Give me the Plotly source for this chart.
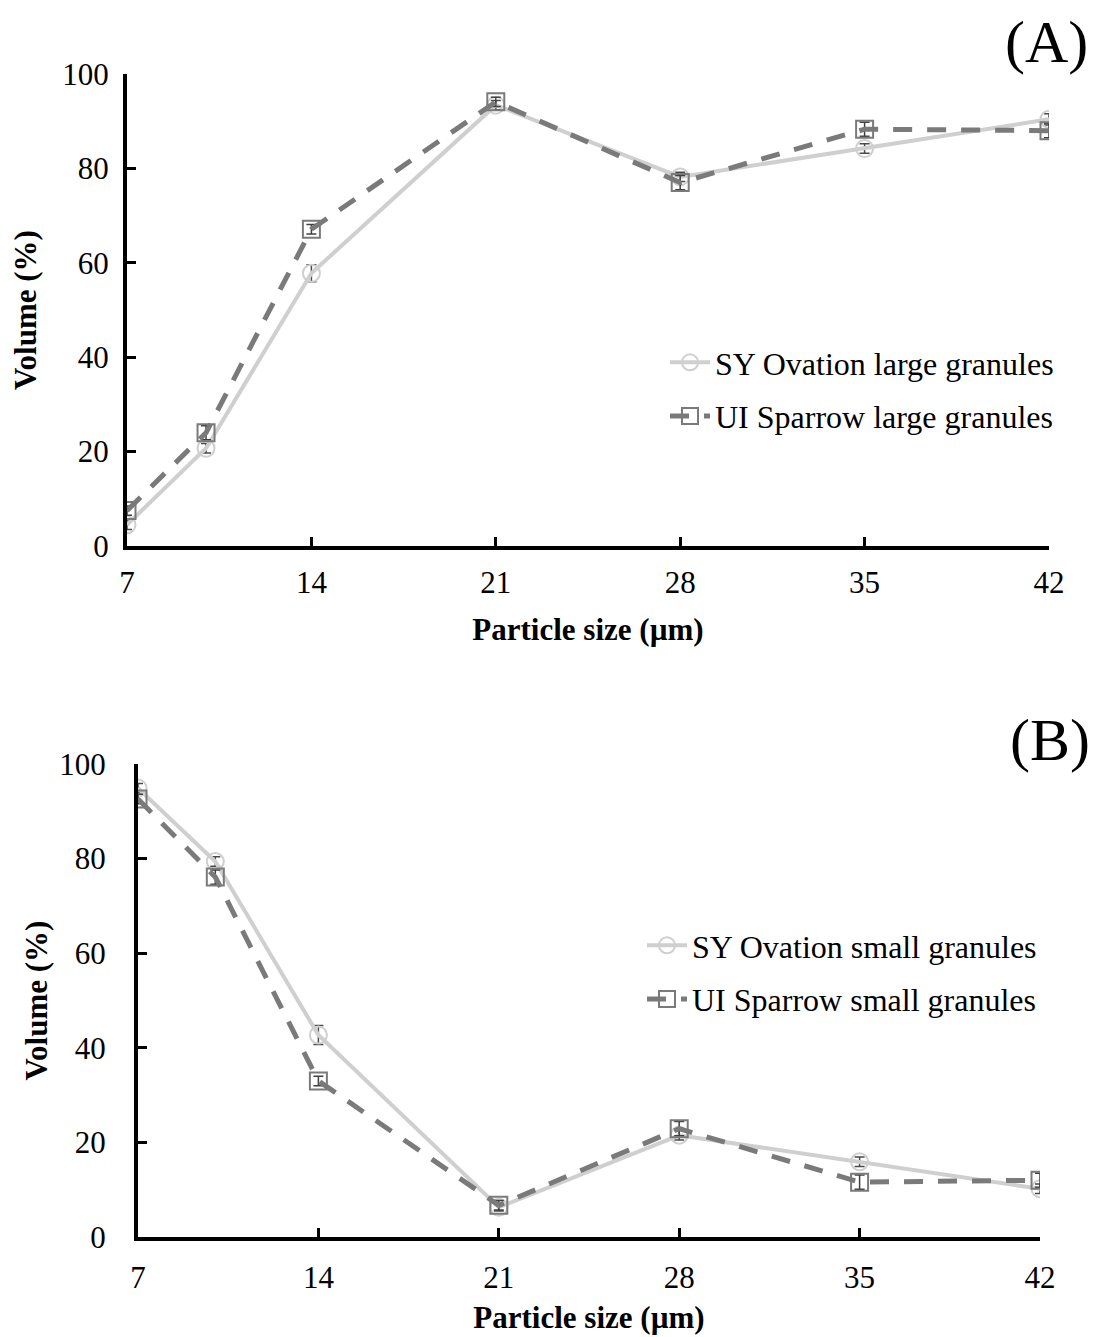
import plotly.graph_objects as go

# Particle size classes (µm)
sizes = [7, 10, 14, 21, 28, 35, 42]
tick_vals = [7, 14, 21, 28, 35, 42]

# (A) large granules – cumulative volume (%)
sy_large = [4.5, 20.7, 57.8, 93.4, 78.2, 84.2, 90.4]
sy_large_err = [1.0, 1.0, 1.8, 1.0, 1.0, 1.0, 1.2]
ui_large = [7.5, 24.0, 67.1, 94.1, 77.0, 88.3, 88.0]
ui_large_err = [1.0, 1.5, 1.0, 1.0, 1.5, 1.5, 1.5]

# (B) small granules – cumulative volume (%)
sy_small = [94.9, 79.4, 42.7, 6.3, 21.5, 15.9, 10.2]
sy_small_err = [1.0, 1.0, 2.0, 0.8, 1.0, 1.0, 1.0]
ui_small = [92.6, 76.1, 33.0, 6.7, 22.9, 11.6, 12.0]
ui_small_err = [1.0, 1.5, 1.0, 1.0, 1.5, 1.5, 1.5]

FONT = "Liberation Serif, Times New Roman, serif"
LIGHT = "#cfcfcf"
DARK = "#7a7a7a"
W, H = 1094, 1337

fig = go.Figure()


def add_pair(sy, sy_err, ui, ui_err, sy_name, ui_name, xa, ya, legend, tag):
    fig.add_trace(go.Scatter(
        x=sizes, y=sy, name=sy_name, xaxis=xa, yaxis=ya, legend=legend,
        legendgroup=tag + "sy", mode="lines+markers",
        line=dict(color=LIGHT, width=4),
        marker=dict(symbol="circle-open", size=17, color=LIGHT,
                    line=dict(width=2, color=LIGHT)),
        error_y=dict(type="data", array=sy_err, visible=True,
                     color="#4a4a4a", thickness=1.5, width=5),
    ))
    fig.add_trace(go.Scatter(
        x=sizes, y=ui, name=ui_name, xaxis=xa, yaxis=ya, legend=legend,
        legendgroup=tag + "ui", mode="lines+markers",
        line=dict(color=DARK, width=5, dash="19px,15px"),
        marker=dict(symbol="square-open", size=17, color=DARK,
                    line=dict(width=2, color=DARK)),
        error_y=dict(type="data", array=ui_err, visible=True,
                     color="#404040", thickness=1.5, width=5),
    ))


add_pair(sy_large, sy_large_err, ui_large, ui_large_err,
         "SY Ovation large granules", "UI Sparrow large granules",
         "x", "y", "legend", "a")
add_pair(sy_small, sy_small_err, ui_small, ui_small_err,
         "SY Ovation small granules", "UI Sparrow small granules",
         "x2", "y2", "legend2", "b")

xaxis_common = dict(
    range=[7, 42], tickvals=tick_vals, ticks="inside", ticklen=9,
    tickwidth=3, tickcolor="black", showline=True, linecolor="black",
    linewidth=4, showgrid=False, zeroline=False, automargin=False,
    tickfont=dict(family=FONT, size=31, color="black"),
)
yaxis_common = dict(
    range=[0, 100], tickvals=[0, 20, 40, 60, 80, 100], ticks="inside",
    ticklen=9, tickwidth=3, tickcolor="black", showline=True,
    linecolor="black", linewidth=4, showgrid=False, zeroline=False,
    automargin=False,
    tickfont=dict(family=FONT, size=31, color="black"),
)
title_font = dict(family=FONT, size=31, color="black")
legend_font = dict(family=FONT, size=32, color="black")

fig.update_layout(
    width=W, height=H,
    margin=dict(l=0, r=0, t=0, b=0, pad=0),
    paper_bgcolor="white", plot_bgcolor="white",
    xaxis=dict(xaxis_common, domain=[127 / W, 1049 / W], anchor="y",
               ticklabelstandoff=6,
               title=dict(text="<b>Particle size (µm)</b>", standoff=20,
                          font=title_font)),
    yaxis=dict(yaxis_common, domain=[1 - 546 / H, 1 - 74 / H], anchor="x",
               ticklabelstandoff=8,
               title=dict(text="<b>Volume (%)</b>", standoff=17,
                          font=title_font)),
    xaxis2=dict(xaxis_common, domain=[138 / W, 1040 / W], anchor="y2",
                ticklabelstandoff=10,
                title=dict(text="<b>Particle size (µm)</b>", standoff=13,
                           font=title_font)),
    yaxis2=dict(yaxis_common, domain=[1 - 1237 / H, 1 - 764 / H], anchor="x2",
                ticklabelstandoff=22,
                title=dict(text="<b>Volume (%)</b>", standoff=3,
                           font=title_font)),
    legend=dict(x=665 / W, y=1 - 335 / H, xanchor="left", yanchor="top",
                font=legend_font, bgcolor="rgba(0,0,0,0)", itemwidth=40,
                traceorder="grouped", tracegroupgap=9),
    legend2=dict(x=642 / W, y=1 - 918 / H, xanchor="left", yanchor="top",
                 font=legend_font, bgcolor="rgba(0,0,0,0)", itemwidth=40,
                 traceorder="grouped", tracegroupgap=9),
    annotations=[
        dict(text="(A)", x=1046 / W, y=1 - 42 / H, xref="paper", yref="paper",
             xanchor="center", yanchor="middle", showarrow=False,
             font=dict(family=FONT, size=60, color="black")),
        dict(text="(B)", x=1092 / W, y=1 - 740 / H, xref="paper", yref="paper",
             xanchor="right", yanchor="middle", showarrow=False,
             font=dict(family=FONT, size=60, color="black")),
    ],
)

fig.write_html("out.html")
